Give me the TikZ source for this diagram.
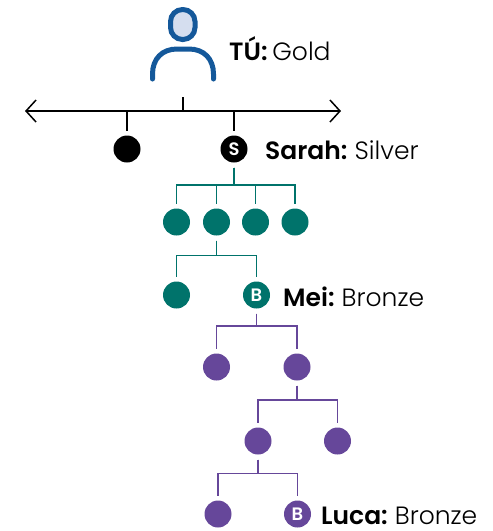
\documentclass[tikz,border=0pt]{standalone}
\usepackage{fontspec}
\setmainfont{Poppins Light}[BoldFont={Poppins SemiBold},WordSpace=0.7]
\usetikzlibrary{arrows.meta}
\definecolor{tealc}{HTML}{00736B}
\definecolor{purplec}{HTML}{66479A}
\definecolor{bluec}{HTML}{14589A}
\definecolor{headfill}{HTML}{D5DEEF}
\tikzset{
  dot/.style={circle,minimum size=27pt,inner sep=0pt,outer sep=5pt,fill=#1,draw=none,text=white,font=\bfseries\fontsize{18}{18}\selectfont},
  lab/.style={anchor=base west,inner sep=0pt,text depth=0pt,font=\fontsize{25}{28}\selectfont,text=black},
  link/.style={line width=1.8pt,draw=#1},
}
\begin{document}
\begin{tikzpicture}[x=1pt,y=-1pt]
\useasboundingbox (0,0) rectangle (493,531);
% person icon
\draw[bluec,fill=headfill,line width=5pt,rounded corners=12pt] (170.5,9.5) rectangle (195,39.5);
\draw[bluec,line width=5pt,line cap=round] (152.5,79) -- (152.5,74) .. controls (152.5,59) and (162,49) .. (177,49) -- (189,49) .. controls (204,49) and (213.5,59) .. (213.5,74) -- (213.5,79);
\coordinate (person) at (183,97);
\node[lab] (tu) at (229,60) {\textbf{TÚ:} Gold};
% bus
\coordinate (busL) at (25,111);
\coordinate (busR) at (341,111);
\coordinate (busM) at (183,111);
\draw[line width=1.5pt,{Straight Barb[length=10pt,width=22pt,line width=1.5pt]}-{Straight Barb[length=10pt,width=22pt,line width=1.5pt]}] (busL) -- (busR);
\draw[line width=1.5pt] (person) -- (busM);
% nodes
\node[dot=black] (a) at (127,149) {};
\node[dot=black] (sarah) at (234,149) {S};
\node[lab] (sarahl) at (265,159) {\textbf{Sarah:} Silver};
\foreach \n/\x in {t1/176.5,t2/216.5,t3/255.5,t4/295}
  \node[dot=tealc] (\n) at (\x,222) {};
\node[dot=tealc] (t5) at (176.5,295) {};
\node[dot=tealc] (mei) at (256.5,295) {B};
\node[lab] (meil) at (283,306) {\textbf{Mei:} Bronze};
\node[dot=purplec] (p1) at (216.5,367) {};
\node[dot=purplec] (p2) at (297,367) {};
\node[dot=purplec] (p3) at (258,441) {};
\node[dot=purplec] (p4) at (337.5,441) {};
\node[dot=purplec] (p5) at (218,514) {};
\node[dot=purplec] (luca) at (297.5,514) {B};
\node[lab] (lucal) at (321,524) {\textbf{Luca:} Bronze};
% ticks
\draw[line width=1.5pt] (busM-|a) -- (a.north);
\draw[line width=1.5pt] (busM-|sarah) -- (sarah.north);
% teal
\foreach \c in {t1,t2,t3,t4}
  \draw[link=tealc] (sarah.south) -- ++(0,17.5) -| (\c.north);
\foreach \c in {t5,mei}
  \draw[link=tealc] (t2.south) -- ++(0,15) -| (\c.north);
% purple
\foreach \c in {p1,p2}
  \draw[link=purplec] (mei.south) -- ++(0,12.5) -| (\c.north);
\foreach \c in {p3,p4}
  \draw[link=purplec] (p2.south) -- ++(0,14.5) -| (\c.north);
\foreach \c in {p5,luca}
  \draw[link=purplec] (p3.south) -- ++(0,14) -| (\c.north);
\end{tikzpicture}
\end{document}
